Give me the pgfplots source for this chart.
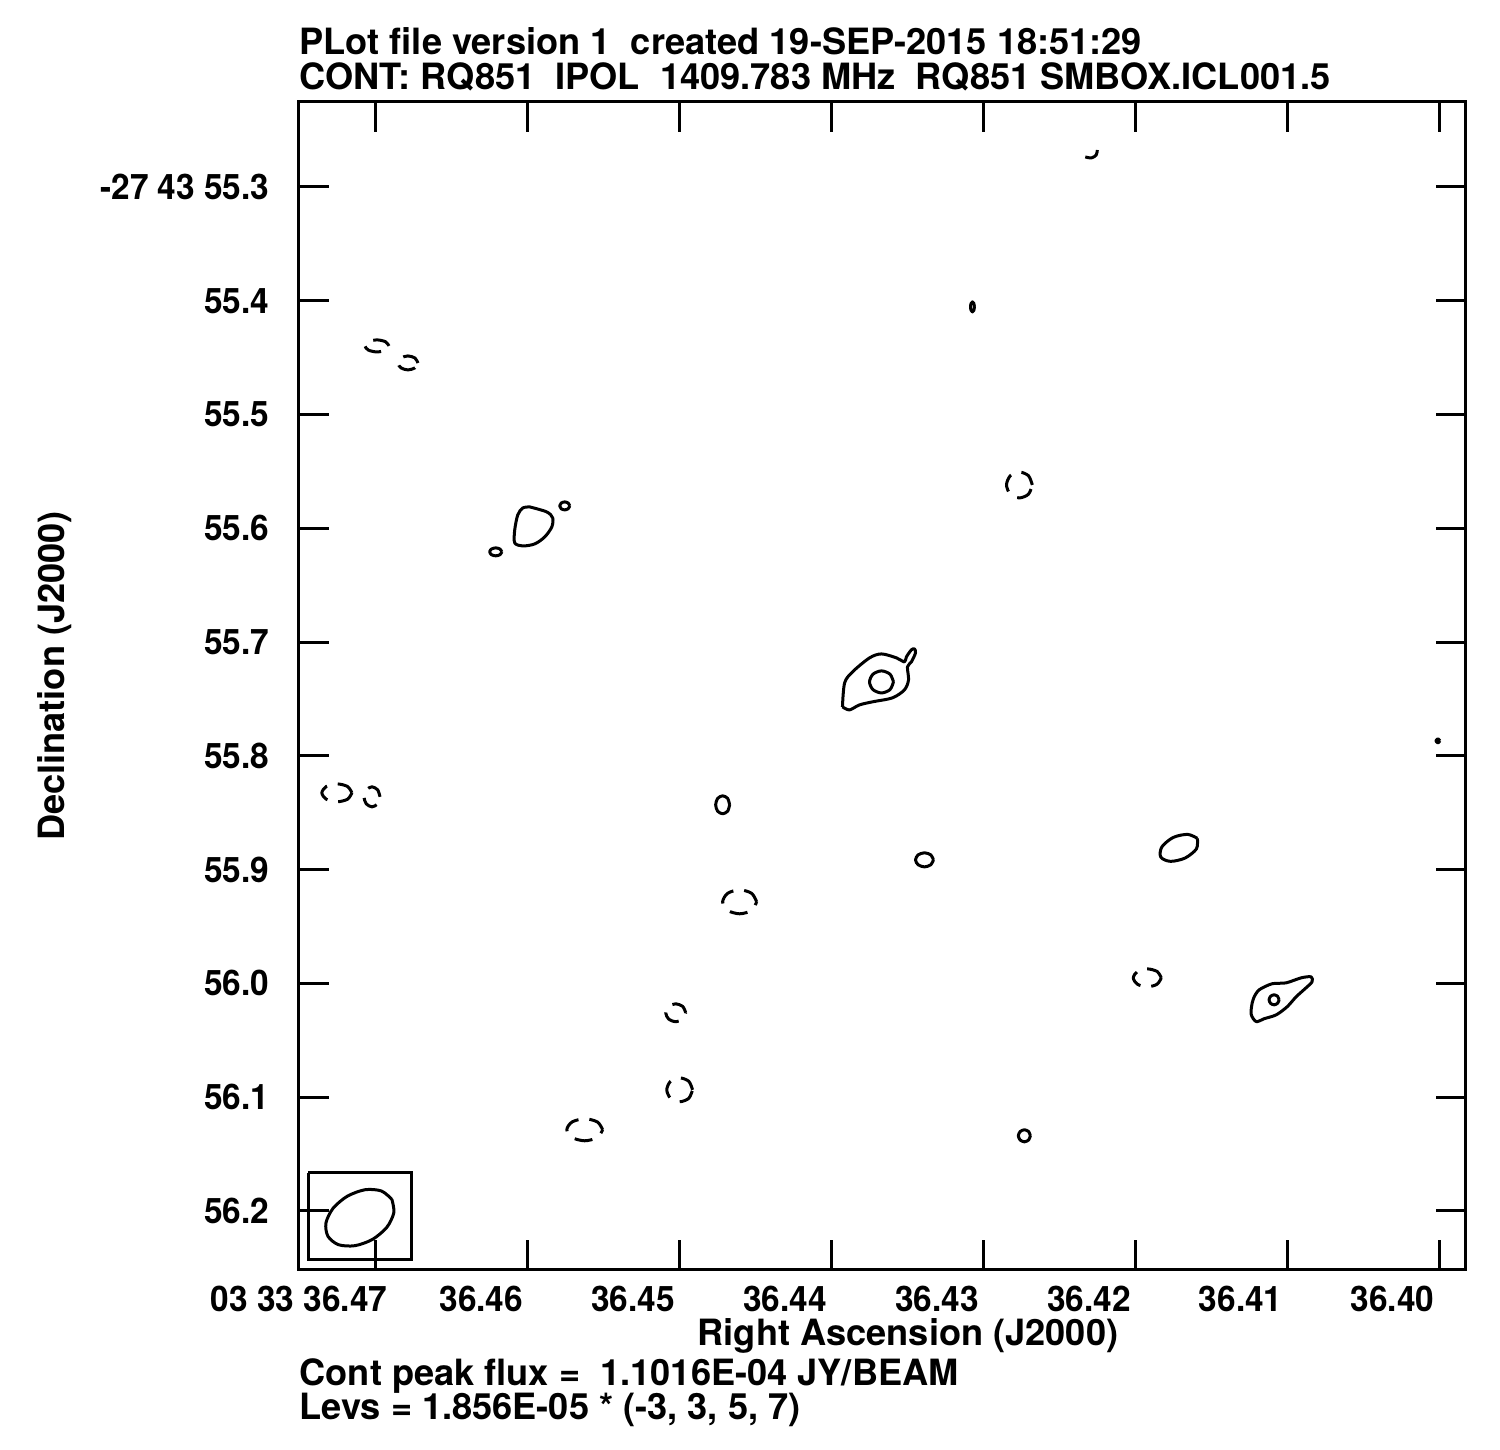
\documentclass[border=0pt]{standalone}
\usepackage{fontspec}
\setmainfont{TeX Gyre Heros}
\newfontfamily\tickfont{TeX Gyre Heros}[FakeStretch=0.95]
\usepackage{pgfplots}
\pgfplotsset{compat=1.18}
\begin{document}
\begin{tikzpicture}
\useasboundingbox (0,0) rectangle (150mm,145mm);
\begin{axis}[at={(29.9mm,18mm)}, anchor=south west, scale only axis,
  width=116.7mm, height=116.8mm,
  x dir=reverse, y dir=reverse,
  xmin=36.398224, xmax=36.475066, ymin=55.22531, ymax=56.25185,
  axis line style={line width=0.3mm},
  tick align=inside, major tick length=3mm,
  tick style={line width=0.3mm, black},
  xtick={36.47,36.46,36.45,36.44,36.43,36.42,36.41,36.40},
  xticklabels={03 33 36.47\kern-1.6mm\null,36.46,36.45,36.44,36.43,36.42,36.41,36.40},
  ytick={55.3,55.4,55.5,55.6,55.7,55.8,55.9,56.0,56.1,56.2},
  yticklabels={-27 43 55.3,55.4,55.5,55.6,55.7,55.8,55.9,56.0,56.1,56.2},
  tick label style={font=\tickfont\bfseries\fontsize{10}{12}\selectfont, inner sep=0pt},
  xticklabel style={anchor=north east, xshift=-0.4mm}, xticklabel shift=1.5mm,
  yticklabel style={anchor=east}, yticklabel shift=2.9mm,
  pos/.style={black, line width=0.3mm, smooth, no markers, line join=round},
  neg/.style={pos, dash pattern=on 1.8mm off 1.1mm},
]
% central source, outer 3 sigma
\addplot[pos] coordinates {(36.43928,55.7569)(36.43914,55.7359)(36.43862,55.7262)(36.43750,55.7139)(36.43671,55.7104)(36.43572,55.7139)(36.43520,55.7174)(36.43507,55.7130)(36.43474,55.7068)(36.43454,55.7060)(36.43447,55.7095)(36.43474,55.7174)(36.43500,55.7218)(36.43493,55.7332)(36.43520,55.7420)(36.43599,55.7490)(36.43730,55.7525)(36.43816,55.7552)(36.43882,55.7596)(36.43928,55.7569)};
% central source, inner
\addplot[pos] coordinates {(36.43592,55.7350)(36.43615,55.7282)(36.43671,55.7253)(36.43727,55.7282)(36.43750,55.7350)(36.43727,55.7418)(36.43671,55.7447)(36.43615,55.7418)(36.43592,55.7350)};
% blob near 36.46
\addplot[pos] coordinates {(36.45987,55.5812)(36.45875,55.5856)(36.45836,55.5909)(36.45842,55.5988)(36.45888,55.6075)(36.45954,55.6137)(36.46033,55.6155)(36.46086,55.6128)(36.46086,55.6014)(36.46066,55.5882)(36.46033,55.5821)(36.45987,55.5812)};
\addplot[pos] coordinates {(36.45724,55.5803)(36.45734,55.5778)(36.45757,55.5768)(36.45780,55.5778)(36.45790,55.5803)(36.45780,55.5828)(36.45757,55.5838)(36.45734,55.5828)(36.45724,55.5803)};
\addplot[pos] coordinates {(36.46171,55.6207)(36.46183,55.6182)(36.46211,55.6172)(36.46239,55.6182)(36.46251,55.6207)(36.46239,55.6232)(36.46211,55.6242)(36.46183,55.6232)(36.46171,55.6207)};
% source near 36.41
\addplot[pos] coordinates {(36.41217,56.0118)(36.41184,56.0056)(36.41099,56.0003)(36.41007,55.9995)(36.40908,55.9951)(36.40842,55.9942)(36.40836,55.9986)(36.40875,56.0038)(36.40941,56.0118)(36.41000,56.0205)(36.41072,56.0276)(36.41151,56.0310)(36.41204,56.0335)(36.41237,56.0270)(36.41230,56.0170)(36.41217,56.0118)};
\addplot[pos] coordinates {(36.41053,56.0144)(36.41063,56.0113)(36.41086,56.0100)(36.41109,56.0113)(36.41119,56.0144)(36.41109,56.0175)(36.41086,56.0188)(36.41063,56.0175)(36.41053,56.0144)};
% ellipse near 36.417
\addplot[pos] coordinates {(36.41591,55.8725)(36.41655,55.8690)(36.41750,55.8717)(36.41825,55.8800)(36.41832,55.8890)(36.41768,55.8927)(36.41672,55.8898)(36.41597,55.8817)(36.41591,55.8725)};
% small positive contours
\addplot[pos] coordinates {(36.44671,55.8430)(36.44684,55.8374)(36.44717,55.8351)(36.44750,55.8374)(36.44763,55.8430)(36.44750,55.8486)(36.44717,55.8509)(36.44684,55.8486)(36.44671,55.8430)};
\addplot[pos] coordinates {(36.43329,55.8914)(36.43346,55.8870)(36.43388,55.8852)(36.43430,55.8870)(36.43447,55.8914)(36.43430,55.8957)(36.43388,55.8976)(36.43346,55.8957)(36.43329,55.8914)};
\addplot[pos] coordinates {(36.42691,56.1339)(36.42702,56.1302)(36.42730,56.1286)(36.42758,56.1302)(36.42770,56.1339)(36.42758,56.1376)(36.42730,56.1392)(36.42702,56.1376)(36.42691,56.1339)};
\addplot[pos] coordinates {(36.43059,55.4054)(36.43063,55.4023)(36.43072,55.4010)(36.43081,55.4023)(36.43085,55.4054)(36.43081,55.4085)(36.43072,55.4098)(36.43063,55.4085)(36.43059,55.4054)};
\addplot[pos] coordinates {(36.39994,55.7868)(36.40007,55.7850)(36.40020,55.7868)(36.40007,55.7886)(36.39994,55.7868)};
% negative contours
\addplot[neg] coordinates {(36.46914,55.4397)(36.46937,55.4360)(36.46993,55.4344)(36.47049,55.4360)(36.47072,55.4397)(36.47049,55.4434)(36.46993,55.4450)(36.46937,55.4434)(36.46914,55.4397)};
\addplot[neg] coordinates {(36.46723,55.4547)(36.46743,55.4503)(36.46789,55.4485)(36.46835,55.4503)(36.46855,55.4547)(36.46835,55.4590)(36.46789,55.4608)(36.46743,55.4590)(36.46723,55.4547)};
\addplot[neg] coordinates {(36.47158,55.8325)(36.47187,55.8269)(36.47257,55.8246)(36.47327,55.8269)(36.47356,55.8325)(36.47327,55.8381)(36.47257,55.8404)(36.47187,55.8381)(36.47158,55.8325)};
\addplot[neg] coordinates {(36.46973,55.8360)(36.46989,55.8298)(36.47026,55.8272)(36.47063,55.8298)(36.47079,55.8360)(36.47063,55.8422)(36.47026,55.8448)(36.46989,55.8422)(36.46973,55.8360)};
\addplot[neg] coordinates {(36.44493,55.9283)(36.44526,55.9208)(36.44605,55.9177)(36.44684,55.9208)(36.44717,55.9283)(36.44684,55.9358)(36.44605,55.9388)(36.44526,55.9358)(36.44493,55.9283)};
\addplot[neg] coordinates {(36.42678,55.5619)(36.42703,55.5538)(36.42763,55.5505)(36.42823,55.5538)(36.42848,55.5619)(36.42823,55.5700)(36.42763,55.5733)(36.42703,55.5700)(36.42678,55.5619)};
\addplot[neg] coordinates {(36.44960,56.0258)(36.44980,56.0202)(36.45026,56.0179)(36.45072,56.0202)(36.45092,56.0258)(36.45072,56.0314)(36.45026,56.0337)(36.44980,56.0314)(36.44960,56.0258)};
\addplot[neg] coordinates {(36.44915,56.0935)(36.44940,56.0860)(36.45000,56.0830)(36.45060,56.0860)(36.45085,56.0935)(36.45060,56.1010)(36.45000,56.1040)(36.44940,56.1010)(36.44915,56.0935)};
\addplot[neg] coordinates {(36.45507,56.1286)(36.45541,56.1218)(36.45625,56.1189)(36.45709,56.1218)(36.45743,56.1286)(36.45709,56.1354)(36.45625,56.1383)(36.45541,56.1354)(36.45507,56.1286)};
\addplot[neg] coordinates {(36.41829,55.9951)(36.41856,55.9895)(36.41921,55.9872)(36.41986,55.9895)(36.42013,55.9951)(36.41986,56.0007)(36.41921,56.0030)(36.41856,56.0007)(36.41829,55.9951)};
\addplot[pos] coordinates {(36.42329,55.2736)(36.42289,55.2745)(36.42257,55.2719)(36.42250,55.2675)};
% beam box and beam
\addplot[black, line width=0.3mm, no markers, sharp plot] coordinates {(36.47447,56.1664)(36.46763,56.1664)(36.46763,56.2429)(36.47447,56.2429)(36.47447,56.1664)};
\addplot[pos] coordinates {(36.46895,56.1897)(36.46964,56.1824)(36.47071,56.1813)(36.47188,56.1870)(36.47282,56.1976)(36.47329,56.2105)(36.47316,56.2222)(36.47247,56.2296)(36.47139,56.2305)(36.47023,56.2250)(36.46928,56.2143)(36.46882,56.2014)(36.46895,56.1897)};
\end{axis}
\begin{scope}[x=0.1mm, y=-0.1mm, yshift=145mm,
  every node/.style={font=\bfseries\fontsize{10.3}{12}\selectfont, inner sep=0pt}]
\node[anchor=base west] at (299,55) {PLot file version 1\ \ created 19-SEP-2015 18:51:29};
\node[anchor=base west] at (299,90) {CONT: RQ851\ \ IPOL\ \ 1409.783 MHz\ \ RQ851 SMBOX.ICL001.5};
\node[anchor=base] at (908,1346) {Right Ascension (J2000)};
\node[rotate=90, anchor=center] at (55,676) {Declination (J2000)};
\node[anchor=base west] at (299,1386) {Cont peak flux =\ \ 1.1016E-04 JY/BEAM};
\node[anchor=base west] at (299,1420) {Levs = 1.856E-05 * (-3, 3, 5, 7)};
\end{scope}
\end{tikzpicture}
\end{document}
